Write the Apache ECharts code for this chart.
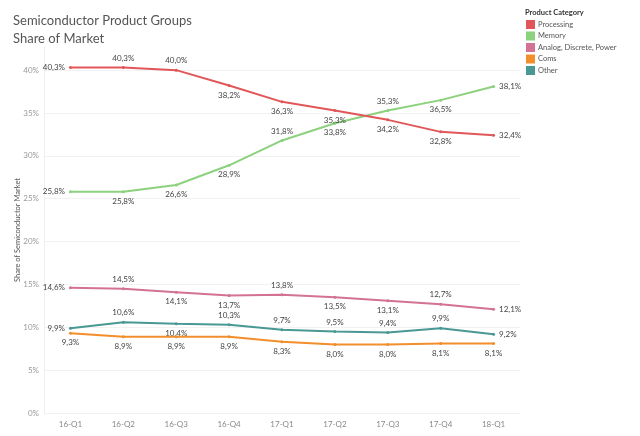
<!DOCTYPE html>
<html><head><meta charset="utf-8">
<script src="https://cdn.jsdelivr.net/npm/echarts@6/dist/echarts.min.js"></script>
<style>html,body{margin:0;padding:0;background:#fff}#c{width:640px;height:436px}</style>
</head><body><div id="c"></div>
<script>
var categories = ['16-Q1','16-Q2','16-Q3','16-Q4','17-Q1','17-Q2','17-Q3','17-Q4','18-Q1'];
var seriesNames = ['Processing','Memory','Analog, Discrete, Power','Coms','Other'];
var processing = [40.3,40.3,40.0,38.2,36.3,35.3,34.2,32.8,32.4];
var memory = [25.8,25.8,26.6,28.9,31.8,33.8,35.3,36.5,38.1];
var analog = [14.6,14.5,14.1,13.7,13.8,13.5,13.1,12.7,12.1];
var coms = [9.3,8.9,8.9,8.9,8.3,8.0,8.0,8.1,8.1];
var other = [9.9,10.6,10.4,10.3,9.7,9.5,9.4,9.9,9.2];
var yTicks = [0,5,10,15,20,25,30,35,40];

var colors = ['#e15759','#8cd17d','#d37295','#f28e2b','#499894'];
var placements = [
  ['left','top','top','bottom','bottom','bottom','bottom','bottom','right'],
  ['left','bottom','bottom','bottom','top','bottom','top','bottom','right'],
  ['left','top','bottom','bottom','top','bottom','bottom','top','right'],
  ['bottom','bottom','bottom','bottom','bottom','bottom','bottom','bottom','bottom'],
  ['left','top','bottom','top','top','top','top','top','right']
];
var allData = [processing, memory, analog, coms, other];
var FONT = 'Lato, "Open Sans", sans-serif';
function fmt(v){ return v.toFixed(1).replace('.', ',') + '%'; }

var series = allData.map(function(arr, si){
  return {
    name: seriesNames[si], type: 'line', z: 5 - si,
    data: arr.map(function(v, i){
      return { value: v, label: { position: placements[si][i], distance: 4 } };
    }),
    symbol: 'circle', symbolSize: 3, showSymbol: true,
    lineStyle: { width: 2, color: colors[si] },
    itemStyle: { color: colors[si] },
    label: { show: true, formatter: function(p){ return fmt(p.value); },
      fontFamily: FONT, fontSize: 8, color: '#444' }
  };
});

var chart = echarts.init(document.getElementById('c'), null, {renderer:'canvas'});
chart.setOption({
  animation: false,
  color: colors,
  title: [
    { text: 'Semiconductor Product Groups\nShare of Market', left: 8, top: 7,
      textStyle: { fontFamily: FONT, fontSize: 13, fontWeight: 'normal', color: '#555', lineHeight: 18 } },
    { text: 'Product Category', left: 520, top: 4,
      textStyle: { fontFamily: FONT, fontSize: 7.5, fontWeight: 'bold', color: '#333' } }
  ],
  legend: {
    orient: 'vertical', left: 521, top: 15, itemWidth: 9, itemHeight: 9, itemGap: 2.5,
    icon: 'rect', data: seriesNames,
    textStyle: { fontFamily: FONT, fontSize: 7.5, color: '#555', padding: [0,0,0,-2] }
  },
  grid: { left: 44, right: 120, top: 47, bottom: 23, containLabel: false },
  xAxis: {
    type: 'category', data: categories, boundaryGap: true,
    axisLine: { show: false }, axisTick: { show: false },
    axisLabel: { fontFamily: FONT, fontSize: 8, color: '#888', margin: 7 },
    splitLine: { show: false }
  },
  yAxis: {
    type: 'value', min: 0, max: 42.7, interval: 5,
    name: 'Share of Semiconductor Market', nameLocation: 'middle', nameGap: 22, nameRotate: 90,
    nameMoveOverlap: false,
    nameTextStyle: { fontFamily: FONT, fontSize: 7.5, color: '#555' },
    axisLine: { show: true, lineStyle: { color: '#eee' } }, axisTick: { show: false },
    axisLabel: { fontFamily: FONT, fontSize: 8, color: '#999', margin: 5, showMaxLabel: false,
      formatter: function(v){ return yTicks.indexOf(v) >= 0 ? v + '%' : ''; } },
    splitLine: { show: true, showMaxLine: false, lineStyle: { color: '#f2f2f2', width: 1 } }
  },
  series: series
});
</script></body></html>
